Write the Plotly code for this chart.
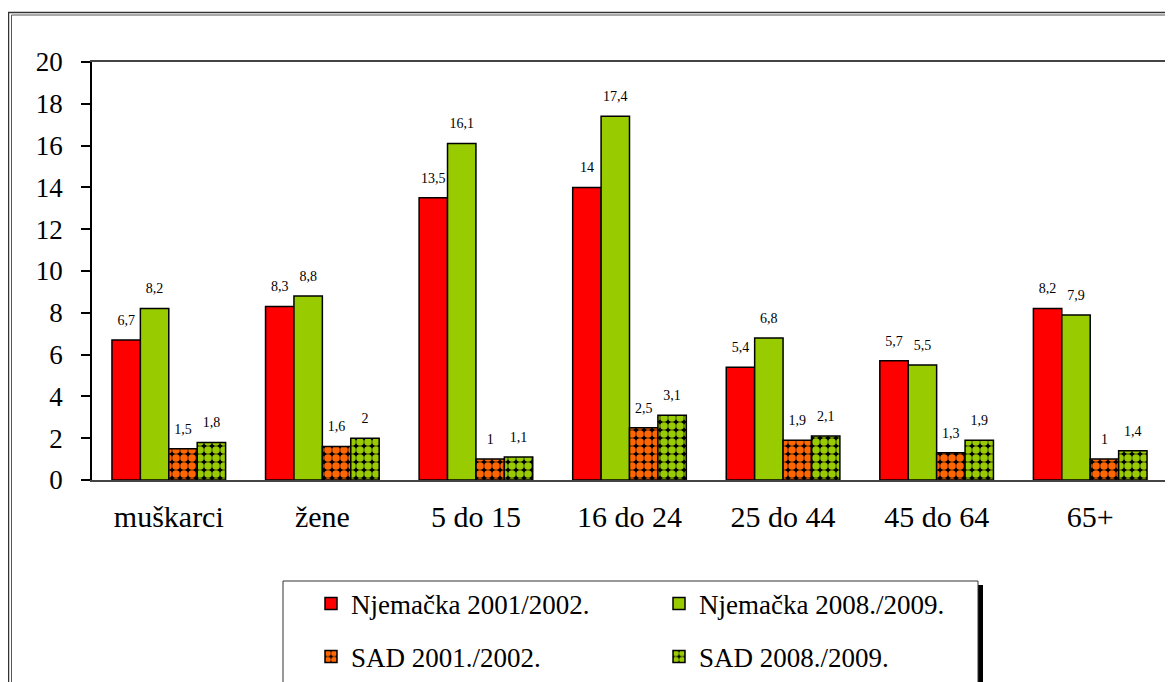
import plotly.graph_objects as go

categories = ["muškarci", "žene", "5 do 15", "16 do 24", "25 do 44", "45 do 64", "65+"]
njem_2001 = [6.7, 8.3, 13.5, 14, 5.4, 5.7, 8.2]
njem_2008 = [8.2, 8.8, 16.1, 17.4, 6.8, 5.5, 7.9]
sad_2001 = [1.5, 1.6, 1, 2.5, 1.9, 1.3, 1]
sad_2008 = [1.8, 2, 1.1, 3.1, 2.1, 1.9, 1.4]
series_names = ["Njemačka 2001/2002.", "Njemačka 2008./2009.", "SAD 2001./2002.", "SAD 2008./2009."]
y_ticks = [0, 2, 4, 6, 8, 10, 12, 14, 16, 18, 20]

FONT = "Times New Roman, Liberation Serif, serif"
OFF = 8  # page body margin
W, H = 1165, 674
L, T = 92 - OFF, 62 - OFF
PR, PB = 1167 - OFF, 480 - OFF
R, B = W - PR, H - PB
PW, PH = PR - L, PB - T

def px(x):
    return (x - OFF - L) / PW

def py(y):
    return (PB - (y - OFF)) / PH

def fmt(v):
    return ("%g" % v).replace(".", ",")

RED, GREEN, ORANGE = "#FF0000", "#99CC00", "#FF6600"

fig = go.Figure()
series = [njem_2001, njem_2008, sad_2001, sad_2008]
colors = [RED, GREEN, ORANGE, GREEN]
legends = ["legend", "legend", "legend2", "legend2"]
for i, (vals, col, name) in enumerate(zip(series, colors, series_names)):
    marker = dict(color=col, line=dict(color="black", width=1.5))
    if i >= 2:
        marker = dict(color="black", line=dict(color="black", width=1.5),
                      pattern=dict(shape=".", fgcolor=col, bgcolor="black",
                                   size=8, solidity=0.7, fillmode="replace"))
    fig.add_trace(go.Bar(x=categories, y=vals, name=name, marker=marker,
                         legend=legends[i], offsetgroup=str(i)))

for i, vals in enumerate(series):
    fig.add_trace(go.Scatter(x=categories, y=vals, mode="markers+text",
                             text=[fmt(v) for v in vals], textposition="top center",
                             textfont=dict(family=FONT, size=14, color="black"),
                             marker=dict(size=17, opacity=0), showlegend=False,
                             hoverinfo="skip", offsetgroup=str(i)))

shapes = [
    # outer double frame
    dict(type="rect", xref="paper", yref="paper", x0=px(8.5), x1=px(1200), y0=py(12.5), y1=py(720),
         line=dict(color="#333", width=1.5)),
    dict(type="rect", xref="paper", yref="paper", x0=px(11.5), x1=px(1197), y0=py(15), y1=py(717),
         line=dict(color="#555", width=1)),
    # legend box + shadow
    dict(type="rect", xref="paper", yref="paper", x0=px(978), x1=px(983), y0=py(585), y1=py(700),
         fillcolor="black", line=dict(width=0)),
    dict(type="rect", xref="paper", yref="paper", x0=px(283), x1=px(978), y0=py(581), y1=py(700),
         fillcolor="white", line=dict(color="#333", width=1)),
]

leg_common = dict(orientation="h", xanchor="left", yanchor="middle",
                  bgcolor="rgba(0,0,0,0)", borderwidth=0, font=dict(family=FONT, size=27),
                  entrywidth=303, entrywidthmode="pixels", traceorder="normal", itemwidth=30)

fig.update_layout(
    width=W, height=H,
    margin=dict(l=L, r=R, t=T, b=B, autoexpand=False),
    paper_bgcolor="white", plot_bgcolor="white",
    barmode="group", bargap=0.26, bargroupgap=0,
    scattermode="group", scattergap=0.26,
    font=dict(family=FONT, color="black"),
    shapes=shapes,
    showlegend=True,
    legend=dict(x=px(311), y=py(604), **leg_common),
    legend2=dict(x=px(311), y=py(657), **leg_common),
    xaxis=dict(showline=True, linecolor="#444", linewidth=1.5, mirror=True, ticks="",
               tickfont=dict(family=FONT, size=30), ticklabelstandoff=9, showgrid=False),
    yaxis=dict(range=[0, 20], tickvals=y_ticks, showline=True, linecolor="black", linewidth=1.5,
               mirror=True, ticks="outside", ticklen=9, tickcolor="black", tickwidth=1.5,
               tickfont=dict(family=FONT, size=27), ticklabelstandoff=13, showgrid=False,
               zeroline=False),
)

fig.write_html("out.html")
